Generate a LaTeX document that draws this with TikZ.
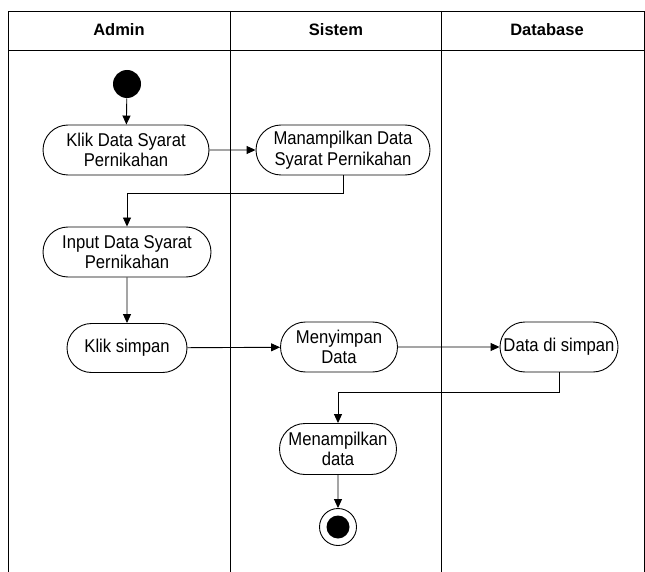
\documentclass[tikz,border=0pt]{standalone}
\usepackage{fontspec}
\setmainfont{Liberation Sans}
\newfontfamily\narrowsans{Liberation Sans}[FakeStretch=0.9]
\usetikzlibrary{arrows.meta,shapes.misc}
\begin{document}
\begin{tikzpicture}[x=1pt,y=-1pt,
  line width=0.9pt,
  act/.style={draw,rounded rectangle,inner sep=0pt,align=center,font=\narrowsans\fontsize{18.5}{20.5}\selectfont},
  hdr/.style={font=\fontsize{16.5}{19}\selectfont\bfseries},
  arr/.style={-{Triangle[length=9pt,width=8pt]}}]
\useasboundingbox (0,0) rectangle (645,572);
% swimlanes
\draw (8,572) -- (8,11) -- (644,11) -- (644,572);
\draw (8,50) -- (644,50);
\draw (230,11) -- (230,572);
\draw (441,11) -- (441,572);
\node[hdr] (h1) at (119,30) {Admin};
\node[hdr] (h2) at (336,30) {Sistem};
\node[hdr] (h3) at (547,30) {Database};
% nodes
\node[circle,fill,inner sep=0pt,minimum size=28pt] (start) at (127,84) {};
\node[act,minimum width=166pt,minimum height=50pt] (a1) at (126,150) {Klik Data Syarat\\Pernikahan};
\node[act,minimum width=174pt,minimum height=50pt] (s1) at (343,150) {Manampilkan Data\\Syarat Pernikahan};
\node[act,minimum width=168pt,minimum height=50pt] (a2) at (127,252) {Input Data Syarat\\Pernikahan};
\node[act,minimum width=120pt,minimum height=49pt] (a3) at (127,348) {Klik simpan};
\node[act,minimum width=117pt,minimum height=50pt] (s2) at (339,347) {Menyimpan\\Data};
\node[act,minimum width=118pt,minimum height=50pt] (d1) at (559,347) {Data di simpan};
\node[act,minimum width=117pt,minimum height=51pt] (s3) at (338,449) {Menampilkan\\data};
\node[circle,draw,inner sep=0pt,minimum size=37pt] (end) at (338,527) {};
\node[circle,fill,inner sep=0pt,minimum size=23pt] (endin) at (end.center) {};
% connectors
\draw[arr] (start) -- (a1);
\draw[arr] (a1) -- (s1);
\draw[arr] (s1.south) -- (s1.south |- 0,193) -| (a2.north);
\draw[arr] (a2) -- (a3);
\draw[arr] (a3) -- (s2);
\draw[arr] (s2) -- (d1);
\draw[arr] (d1.south) -- (d1.south |- 0,392) -| (s3.north);
\draw[arr] (s3) -- (end);
\end{tikzpicture}
\end{document}
